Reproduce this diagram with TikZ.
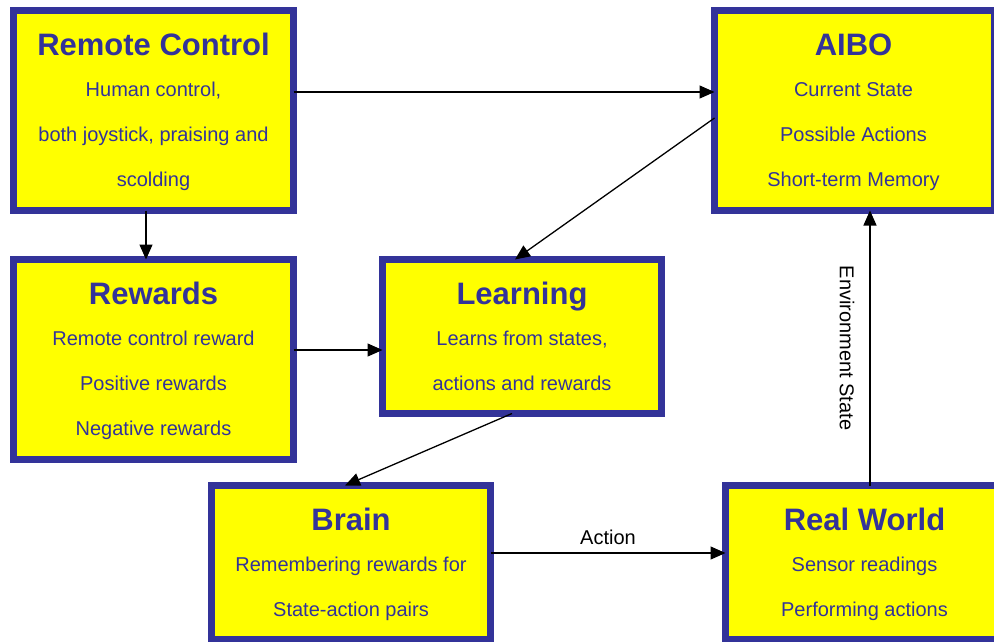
\documentclass[tikz,border=0pt]{standalone}
\usepackage{fontspec}
\setmainfont{Liberation Sans}
\usetikzlibrary{arrows.meta,calc}
\definecolor{navy}{RGB}{51,51,153}
\definecolor{yel}{RGB}{255,255,0}
\begin{document}
\begin{tikzpicture}[x=1pt,y=-1pt,
 box/.style={draw=navy, fill=yel, line width=7pt, outer sep=0pt, inner sep=0pt, rectangle},
 ttl/.style={font=\fontsize{31}{36}\selectfont\bfseries, text=navy, anchor=base, inner sep=0pt},
 txt/.style={font=\fontsize{20}{24}\selectfont, text=navy, anchor=base, inner sep=0pt},
 lbl/.style={font=\fontsize{20}{24}\selectfont, text=black, inner sep=0pt},
 conn/.style={line width=1.3pt, -{Triangle[length=15pt,width=13pt]}}]
\useasboundingbox (0,0) rectangle (994,641);
\clip (0,0) rectangle (994,641);

% boxes
\node[box, minimum width=280pt, minimum height=200pt] (rc) at (153.5,110.5) {};
\node[box, minimum width=280pt, minimum height=200pt] (aibo) at (854.5,110.5) {};
\node[box, minimum width=280pt, minimum height=200pt] (rew) at (153.5,359.5) {};
\node[box, minimum width=279pt, minimum height=154pt] (learn) at (522,336.5) {};
\node[box, minimum width=279pt, minimum height=154pt] (brain) at (351,562.5) {};
\node[box, minimum width=280pt, minimum height=154pt] (rw) at (865.5,562.5) {};

% Remote Control
\node[ttl] (rct) at (153.5,55) {Remote Control};
\node[txt] (rc1) at (153.5,96.5) {Human control,};
\node[txt] (rc2) at (153.5,141.5) {both joystick, praising and};
\node[txt] (rc3) at (153.5,186.5) {scolding};

% AIBO
\node[ttl] (aibot) at (853.5,55) {AIBO};
\node[txt] (aibo1) at (853.5,96.5) {Current State};
\node[txt] (aibo2) at (853.5,141.5) {Possible Actions};
\node[txt] (aibo3) at (853.5,186.5) {Short-term Memory};

% Rewards
\node[ttl] (rewt) at (153.5,304) {Rewards};
\node[txt] (rew1) at (153.5,345.5) {Remote control reward};
\node[txt] (rew2) at (153.5,390.5) {Positive rewards};
\node[txt] (rew3) at (153.5,435.5) {Negative rewards};

% Learning
\node[ttl] (learnt) at (522,304) {Learning};
\node[txt] (learn1) at (522,345.5) {Learns from states,};
\node[txt] (learn2) at (522,390.5) {actions and rewards};

% Brain
\node[ttl] (braint) at (351,530) {Brain};
\node[txt] (brain1) at (351,571.5) {Remembering rewards for};
\node[txt] (brain2) at (351,616.5) {State-action pairs};

% Real World
\node[ttl] (rwt) at (864.5,530) {Real World};
\node[txt] (rw1) at (864.5,571.5) {Sensor readings};
\node[txt] (rw2) at (864.5,616.5) {Performing actions};

% connectors
\draw[conn] (rc.east |- 0,92) -- (aibo.west |- 0,92);
\draw[conn] (aibo.west |- 0,118) -- (learn.north -| 515,0);
\draw[conn] (rc.south -| 146,0) -- (rew.north -| 146,0);
\draw[conn] (rew.east |- 0,350) -- (learn.west |- 0,350);
\draw[conn] (learn.south -| 512,0) -- (brain.north -| 345,0);
\draw[conn] (brain.east |- 0,553) -- (rw.west |- 0,553)
  node[lbl, pos=0.5, anchor=base, yshift=9pt] (act) {Action};
\draw[conn] (rw.north -| 870,0) -- (aibo.south -| 870,0)
  node[lbl, pos=0.5, rotate=-90, yshift=-23pt] (env) {Environment State};
\end{tikzpicture}
\end{document}
